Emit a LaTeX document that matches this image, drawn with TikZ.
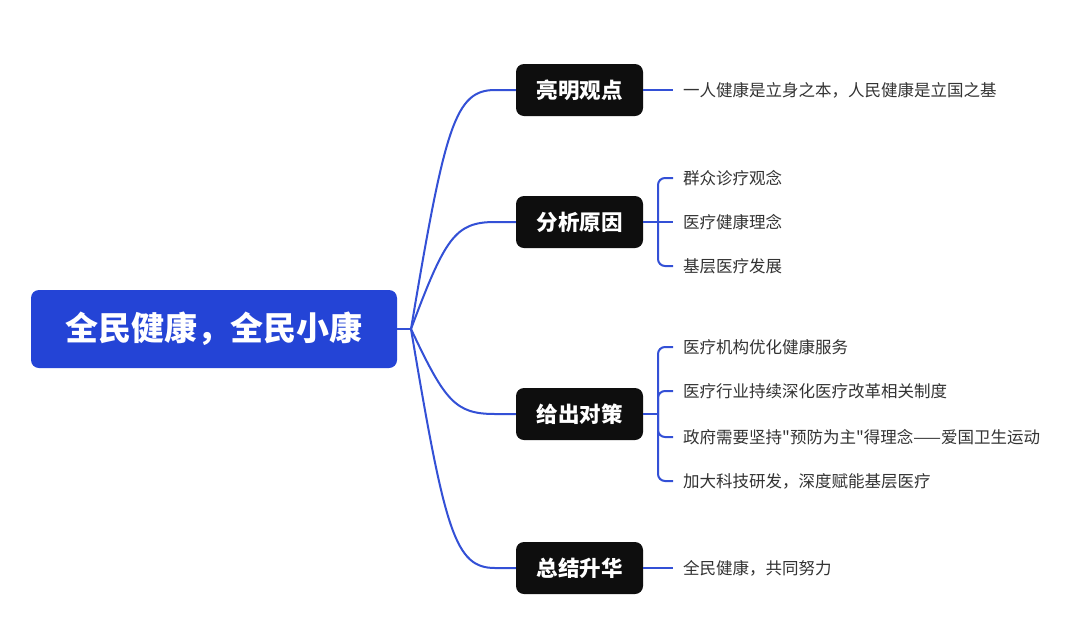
\documentclass[tikz,border=0pt]{standalone}
\usepackage{fontspec}
\setmainfont{Noto Sans CJK SC}[Ligatures=TeXOff]
\definecolor{rootblue}{HTML}{2444D6}
\definecolor{lineblue}{HTML}{3350D6}
\definecolor{nodeblack}{HTML}{0E0E0E}
\definecolor{leafgray}{HTML}{333333}
\begin{document}
\begin{tikzpicture}[x=1pt,y=-1pt,
  rootbox/.style={fill=rootblue, rounded corners=8pt, minimum width=366pt, minimum height=78pt, inner sep=0pt, text=white, font=\fontsize{33}{33}\selectfont\bfseries},
  branchbox/.style={fill=nodeblack, rounded corners=8pt, minimum width=127pt, minimum height=52pt, inner sep=0pt, text=white, font=\fontsize{21.5}{21.5}\selectfont\bfseries},
  leaf/.style={anchor=west, inner xsep=10pt, inner ysep=2pt, text=leafgray, font=\fontsize{16.5}{16.5}\selectfont},
  conn/.style={draw=lineblue, line width=2pt},
  bracket/.style={conn, rounded corners=7pt}
]
\useasboundingbox (0,0) rectangle (1080,630);
\fill[white] (0,0) rectangle (1080,630);

\node[rootbox] (root) at (214,329) {全民健康，全民小康};
\coordinate (J) at (411,329);

\node[branchbox] (b1) at (579.5,90) {亮明观点};
\node[branchbox] (b2) at (579.5,222) {分析原因};
\node[branchbox] (b3) at (579.5,414) {给出对策};
\node[branchbox] (b4) at (579.5,568) {总结升华};

% root to branches
\draw[conn] (root.east) -- (J);
\draw[conn] (J) .. controls (445,126) and (455,90) .. (495,90) -- (b1.west);
\draw[conn] (J) .. controls (445,238) and (455,222) .. (495,222) -- (b2.west);
\draw[conn] (J) .. controls (445,401) and (455,414) .. (495,414) -- (b3.west);
\draw[conn] (J) .. controls (445,532) and (455,568) .. (495,568) -- (b4.west);

% leaves
\node[leaf] (l11) at (673,90) {一人健康是立身之本，人民健康是立国之基};

\node[leaf] (l21) at (673,178) {群众诊疗观念};
\node[leaf] (l22) at (673,222) {医疗健康理念};
\node[leaf] (l23) at (673,266) {基层医疗发展};

\node[leaf] (l31) at (673,347) {医疗机构优化健康服务};
\node[leaf] (l32) at (673,391) {医疗行业持续深化医疗改革相关制度};
\node[leaf] (l33) at (673,437) {政府需要坚持"预防为主"得理念——爱国卫生运动};
\node[leaf] (l34) at (673,481) {加大科技研发，深度赋能基层医疗};

\node[leaf] (l41) at (673,568) {全民健康，共同努力};

\coordinate (k2) at (658,222);
\coordinate (k3) at (658,414);

% branch 1
\draw[conn] (b1.east) -- (l11.west);
% branch 2
\draw[conn] (b2.east) -- (l22.west);
\draw[bracket] (l21.west) -| (k2) |- (l23.west);
% branch 3
\draw[conn] (b3.east) -- (k3);
\draw[bracket] (l31.west) -| (k3) |- (l34.west);
\draw[bracket] (l32.west) -| (k3);
\draw[bracket] (l33.west) -| (k3);
% branch 4
\draw[conn] (b4.east) -- (l41.west);
\end{tikzpicture}
\end{document}
